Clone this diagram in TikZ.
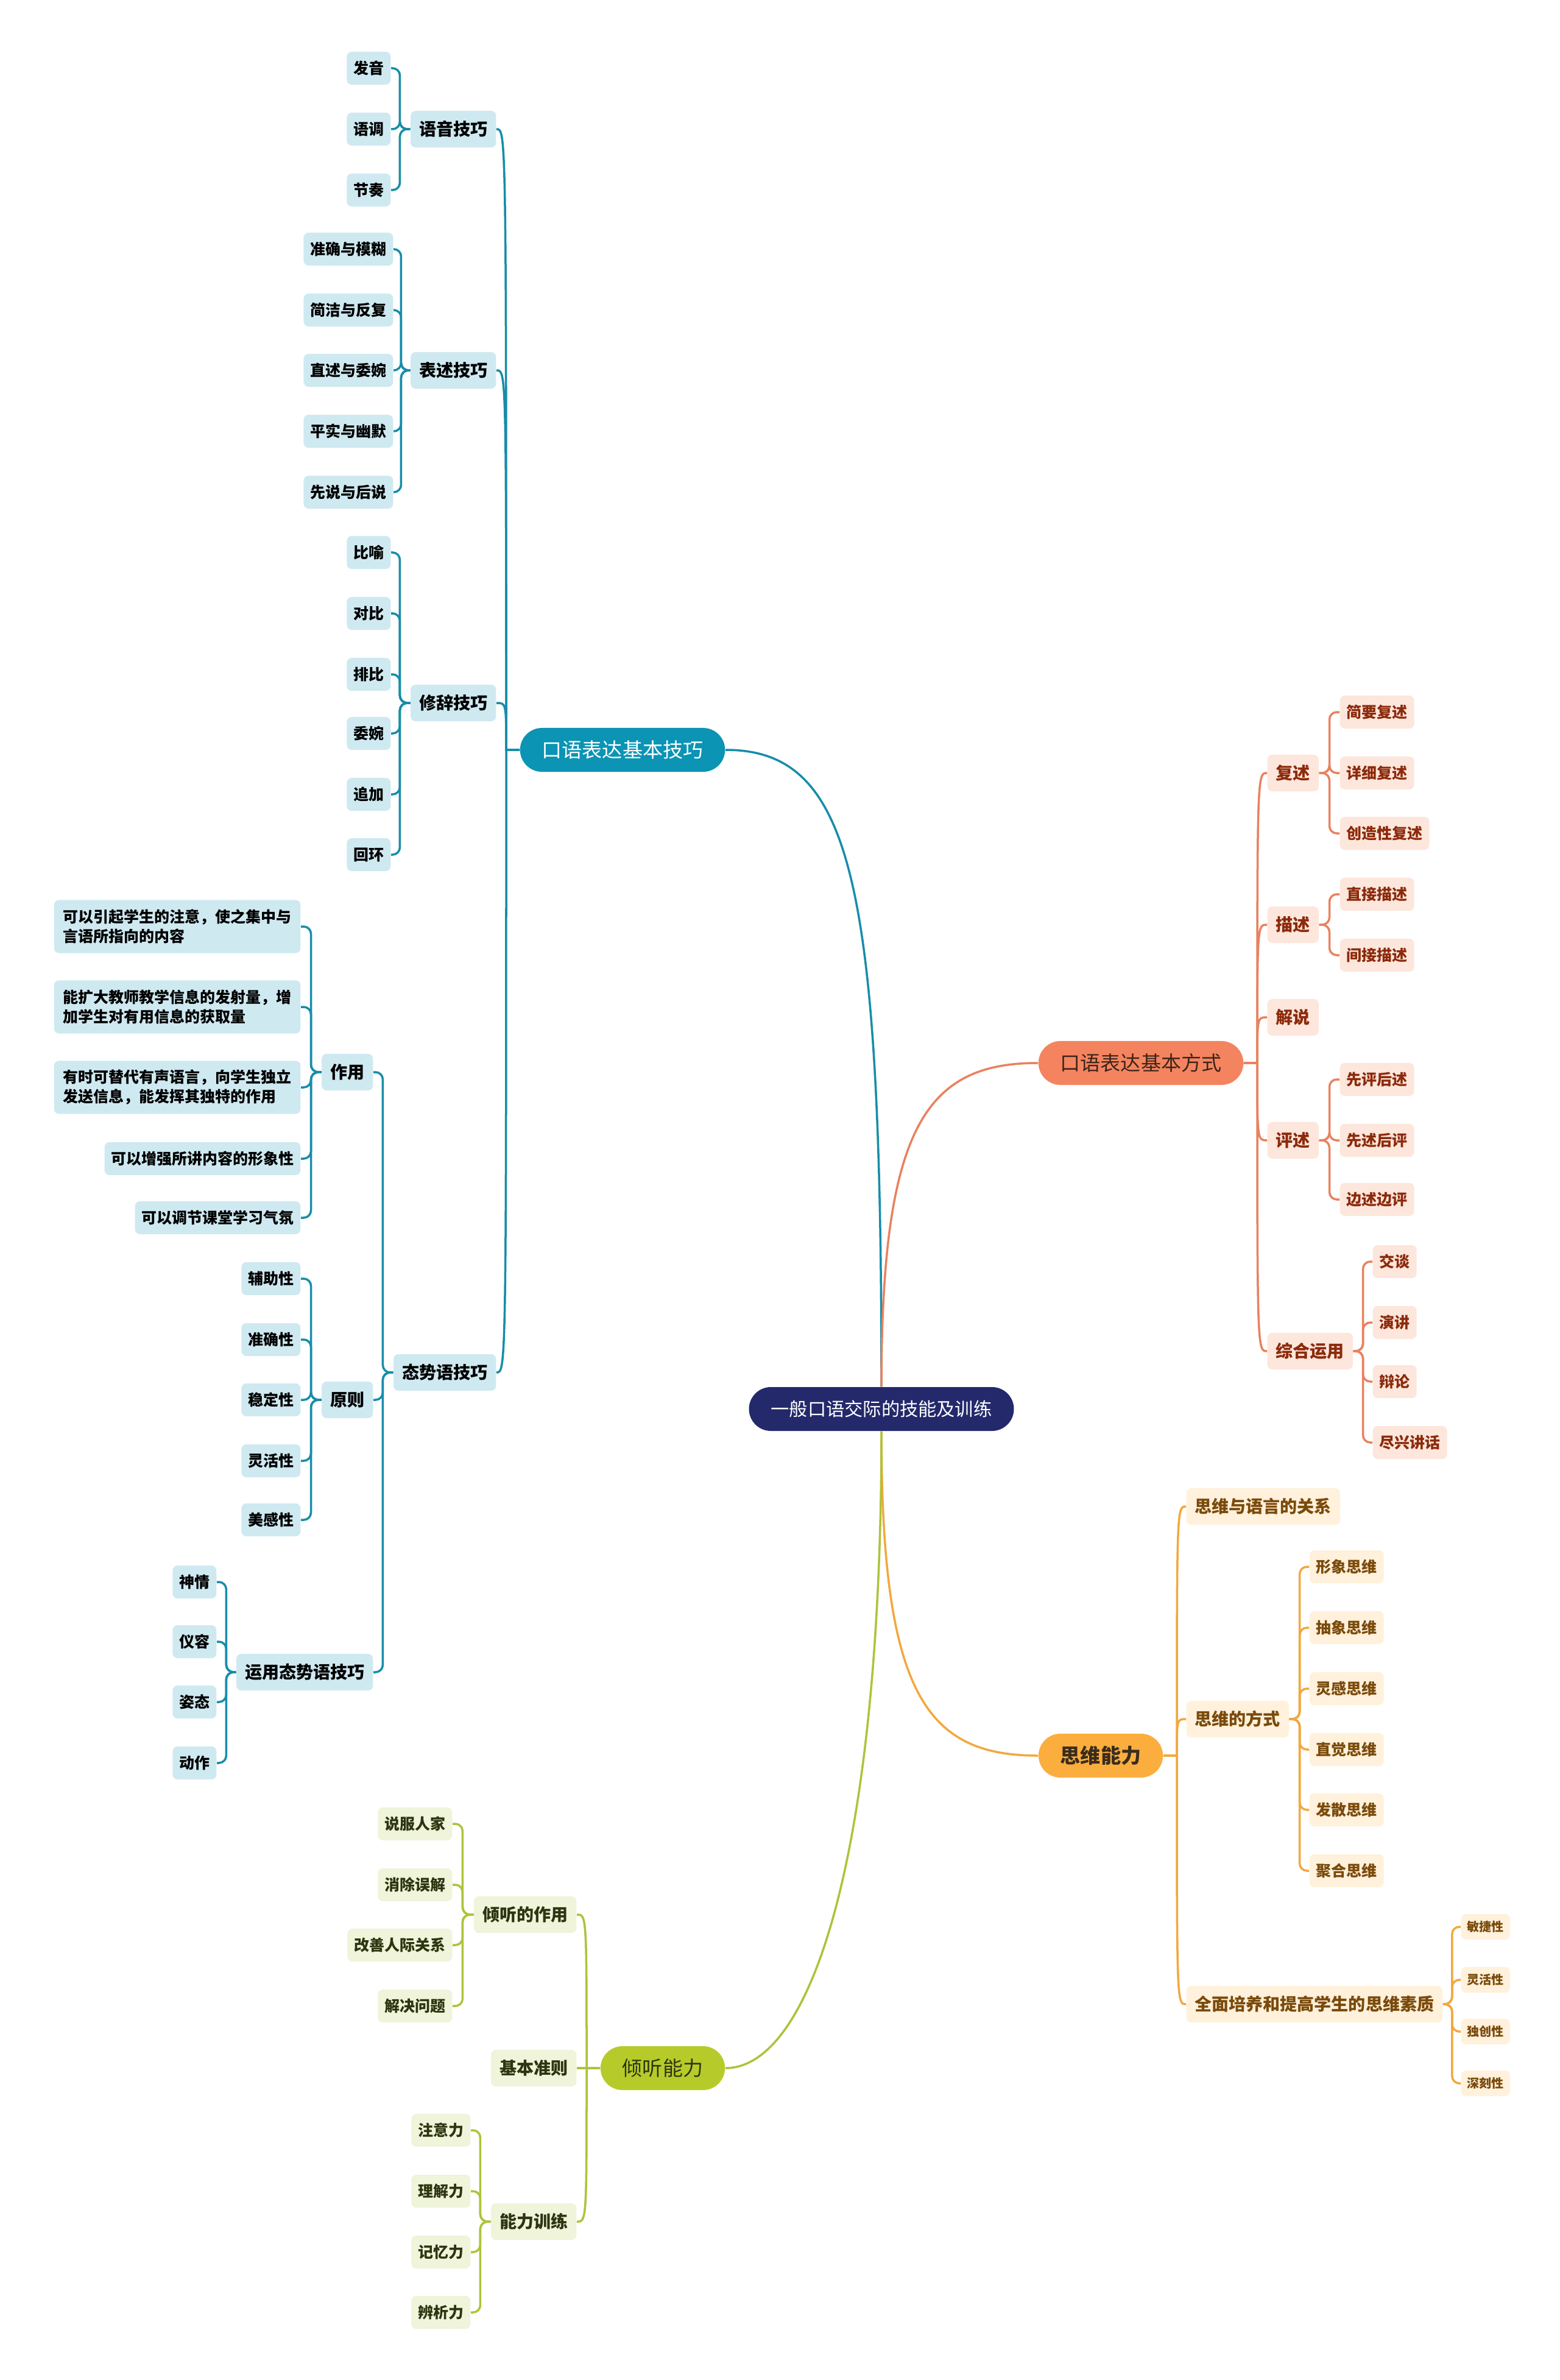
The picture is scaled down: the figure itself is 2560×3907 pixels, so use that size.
\documentclass[tikz,border=0pt]{standalone}
\usepackage{fontspec}
\setmainfont{Noto Sans CJK SC}
\definecolor{navy}{HTML}{23296B}
\definecolor{tMain}{HTML}{0B94B4}
\definecolor{tLine}{HTML}{178DA9}
\definecolor{tL}{HTML}{CFE9F1}
\definecolor{oMain}{HTML}{F4845F}
\definecolor{oLine}{HTML}{E9825F}
\definecolor{oL}{HTML}{FDE6DC}
\definecolor{oT}{HTML}{8C2A0B}
\definecolor{oMT}{HTML}{3D2418}
\definecolor{aMain}{HTML}{FBAE3E}
\definecolor{aLine}{HTML}{F2A83E}
\definecolor{aL}{HTML}{FFF1DB}
\definecolor{aT}{HTML}{7A4A0B}
\definecolor{aMT}{HTML}{3A2C1C}
\definecolor{gMain}{HTML}{B6CB2A}
\definecolor{gLine}{HTML}{AEC33A}
\definecolor{gL}{HTML}{EFF4DA}
\definecolor{gT}{HTML}{2C3510}
\newcommand\fsroot{\fontsize{8.6pt}{10pt}\selectfont}
\newcommand\fsmain{\fontsize{9.4pt}{11pt}\selectfont}
\newcommand\fssub{\fontsize{7.97pt}{9.5pt}\selectfont\bfseries}
\newcommand\fsleaf{\fontsize{7.1pt}{9.1pt}\selectfont\bfseries}
\newcommand\fssmall{\fontsize{5.7pt}{7pt}\selectfont\bfseries}
\begin{document}
\begin{tikzpicture}[x=0.01cm,y=-0.01cm,
  box/.style={rectangle, rounded corners=0.08cm, inner ysep=0pt, align=center},
  sub/.style={box, font=\fssub, inner xsep=0.14cm, minimum height=0.6cm},
  leaf/.style={box, font=\fsleaf, inner xsep=0.11cm, minimum height=0.54cm},
  para/.style={box, font=\fsleaf, inner xsep=0.15cm, minimum height=0.87cm, align=left},
  small/.style={box, font=\fssmall, inner xsep=0.1cm, minimum height=0.42cm},
  pill/.style={rectangle, rounded corners=0.36cm, minimum height=0.72cm, inner xsep=0.36cm, inner ysep=0pt, font=\fsmain},
  T/.style={fill=tL, text=black},
  O/.style={fill=oL, text=oT},
  A/.style={fill=aL, text=aT},
  G/.style={fill=gL, text=gT},
  tline/.style={draw=tLine, line width=0.035cm},
  oline/.style={draw=oLine, line width=0.035cm},
  aline/.style={draw=aLine, line width=0.035cm},
  gline/.style={draw=gLine, line width=0.035cm},
  brk/.style={rounded corners=0.12cm}]
\fill[white] (0,0) rectangle (2560,3907);
\useasboundingbox (0,0) rectangle (2560,3907);

% root
\node[pill, fill=navy, text=white, font=\fsroot] (root) at (1447,2313) {一般口语交际的技能及训练};

% main branches
\node[pill, fill=tMain, text=white] (m1) at (1022,1231) {口语表达基本技巧};
\node[pill, fill=oMain, text=oMT] (m2) at (1873,1745) {口语表达基本方式};
\node[pill, fill=aMain, text=aMT, font=\fsmain\bfseries] (m3) at (1807,2882) {思维能力};
\node[pill, fill=gMain, text=gT] (m4) at (1088,3395) {倾听能力};

% ---------- teal ----------
\node[sub,T,anchor=east] (yy) at (815,212) {语音技巧};
\node[leaf,T,anchor=east] (fy) at (642,112) {发音};
\node[leaf,T,anchor=east] (ydiao) at (642,212) {语调};
\node[leaf,T,anchor=east] (jz) at (642,312) {节奏};

\node[sub,T,anchor=east] (bs) at (815,608) {表述技巧};
\node[leaf,T,anchor=east] (b1) at (646,409) {准确与模糊};
\node[leaf,T,anchor=east] (b2) at (646,509) {简洁与反复};
\node[leaf,T,anchor=east] (b3) at (646,608) {直述与委婉};
\node[leaf,T,anchor=east] (b4) at (646,708) {平实与幽默};
\node[leaf,T,anchor=east] (b5) at (646,808) {先说与后说};

\node[sub,T,anchor=east] (xc) at (815,1154) {修辞技巧};
\node[leaf,T,anchor=east] (x1) at (642,907) {比喻};
\node[leaf,T,anchor=east] (x2) at (642,1007) {对比};
\node[leaf,T,anchor=east] (x3) at (642,1107) {排比};
\node[leaf,T,anchor=east] (x4) at (642,1204) {委婉};
\node[leaf,T,anchor=east] (x5) at (642,1304) {追加};
\node[leaf,T,anchor=east] (x6) at (642,1403) {回环};

\node[sub,T,anchor=east] (ts) at (815,2253) {态势语技巧};
\node[sub,T,anchor=east] (zy) at (613,1760) {作用};
\node[para,T,anchor=east] (z1) at (494,1521) {可以引起学生的注意，使之集中与\\言语所指向的内容};
\node[para,T,anchor=east] (z2) at (494,1653) {能扩大教师教学信息的发射量，增\\加学生对有用信息的获取量};
\node[para,T,anchor=east] (z3) at (494,1785) {有时可替代有声语言，向学生独立\\发送信息，能发挥其独特的作用};
\node[leaf,T,anchor=east] (z4) at (494,1902) {可以增强所讲内容的形象性};
\node[leaf,T,anchor=east] (z5) at (494,1999) {可以调节课堂学习气氛};

\node[sub,T,anchor=east] (yz) at (613,2298) {原则};
\node[leaf,T,anchor=east] (r1) at (494,2099) {辅助性};
\node[leaf,T,anchor=east] (r2) at (494,2199) {准确性};
\node[leaf,T,anchor=east] (r3) at (494,2298) {稳定性};
\node[leaf,T,anchor=east] (r4) at (494,2398) {灵活性};
\node[leaf,T,anchor=east] (r5) at (494,2495) {美感性};

\node[sub,T,anchor=east] (yt) at (613,2745) {运用态势语技巧};
\node[leaf,T,anchor=east] (u1) at (356,2597) {神情};
\node[leaf,T,anchor=east] (u2) at (356,2695) {仪容};
\node[leaf,T,anchor=east] (u3) at (356,2794) {姿态};
\node[leaf,T,anchor=east] (u4) at (356,2894) {动作};

% ---------- orange ----------
\node[sub,O,anchor=west] (fs) at (2080,1269) {复述};
\node[leaf,O,anchor=west] (f1) at (2199,1169) {简要复述};
\node[leaf,O,anchor=west] (f2) at (2199,1269) {详细复述};
\node[leaf,O,anchor=west] (f3) at (2199,1368) {创造性复述};
\node[sub,O,anchor=west] (ms) at (2080,1518) {描述};
\node[leaf,O,anchor=west] (d1) at (2199,1468) {直接描述};
\node[leaf,O,anchor=west] (d2) at (2199,1568) {间接描述};
\node[sub,O,anchor=west] (js) at (2080,1670) {解说};
\node[sub,O,anchor=west] (ps) at (2080,1872) {评述};
\node[leaf,O,anchor=west] (p1) at (2199,1772) {先评后述};
\node[leaf,O,anchor=west] (p2) at (2199,1872) {先述后评};
\node[leaf,O,anchor=west] (p3) at (2199,1969) {边述边评};
\node[sub,O,anchor=west] (zh) at (2080,2218) {综合运用};
\node[leaf,O,anchor=west] (h1) at (2253,2071) {交谈};
\node[leaf,O,anchor=west] (h2) at (2253,2171) {演讲};
\node[leaf,O,anchor=west] (h3) at (2253,2268) {辩论};
\node[leaf,O,anchor=west] (h4) at (2253,2368) {尽兴讲话};

% ---------- amber ----------
\node[sub,A,anchor=west] (a1) at (1947,2473) {思维与语言的关系};
\node[sub,A,anchor=west] (a2) at (1947,2822) {思维的方式};
\node[leaf,A,anchor=west] (s1) at (2149,2572) {形象思维};
\node[leaf,A,anchor=west] (s2) at (2149,2672) {抽象思维};
\node[leaf,A,anchor=west] (s3) at (2149,2772) {灵感思维};
\node[leaf,A,anchor=west] (s4) at (2149,2872) {直觉思维};
\node[leaf,A,anchor=west] (s5) at (2149,2971) {发散思维};
\node[leaf,A,anchor=west] (s6) at (2149,3071) {聚合思维};
\node[sub,A,anchor=west] (a3) at (1947,3290) {全面培养和提高学生的思维素质};
\node[small,A,anchor=west] (q1) at (2398,3163) {敏捷性};
\node[small,A,anchor=west] (q2) at (2398,3250) {灵活性};
\node[small,A,anchor=west] (q3) at (2398,3335) {独创性};
\node[small,A,anchor=west] (q4) at (2398,3420) {深刻性};

% ---------- green ----------
\node[sub,G,anchor=east] (g1) at (947,3143) {倾听的作用};
\node[leaf,G,anchor=east] (l1) at (743,2994) {说服人家};
\node[leaf,G,anchor=east] (l2) at (743,3094) {消除误解};
\node[leaf,G,anchor=east] (l3) at (743,3193) {改善人际关系};
\node[leaf,G,anchor=east] (l4) at (743,3293) {解决问题};
\node[sub,G,anchor=east] (g2) at (947,3395) {基本准则};
\node[sub,G,anchor=east] (g3) at (947,3647) {能力训练};
\node[leaf,G,anchor=east] (n1) at (773,3497) {注意力};
\node[leaf,G,anchor=east] (n2) at (773,3597) {理解力};
\node[leaf,G,anchor=east] (n3) at (773,3697) {记忆力};
\node[leaf,G,anchor=east] (n4) at (773,3796) {辨析力};

% ---------- level-1 connectors ----------
\draw[tline] (m1.east) .. controls (1400,1231) and (1447,1450) .. (root.north);
\draw[oline] (root.north) .. controls (1447,1850) and (1520,1745) .. (m2.west);
\draw[aline] (root.south) .. controls (1447,2780) and (1520,2882) .. (m3.west);
\draw[gline] (root.south) .. controls (1447,3050) and (1330,3395) .. (m4.east);

% ---------- level-2 connectors ----------
\coordinate (t1) at (831,1231);
\foreach \c in {yy,bs,xc,ts}
  \draw[tline] (m1.west) -- (t1) .. controls (t1 |- \c.east) and (t1 |- \c.east) .. (\c.east);
\coordinate (t2) at (2064,1745);
\foreach \c in {fs,ms,js,ps,zh}
  \draw[oline] (m2.east) -- (t2) .. controls (t2 |- \c.west) and (t2 |- \c.west) .. (\c.west);
\coordinate (t3) at (1932,2882);
\foreach \c in {a1,a2,a3}
  \draw[aline] (m3.east) -- (t3) .. controls (t3 |- \c.west) and (t3 |- \c.west) .. (\c.west);
\coordinate (t4) at (963,3395);
\foreach \c in {g1,g2,g3}
  \draw[gline] (m4.west) -- (t4) .. controls (t4 |- \c.east) and (t4 |- \c.east) .. (\c.east);

% ---------- level-3 brackets ----------
\foreach \c in {fy,ydiao,jz} \draw[tline,brk] (yy.west) -- ++(-17,0) |- (\c.east);
\foreach \c in {b1,b2,b3,b4,b5} \draw[tline,brk] (bs.west) -- ++(-15,0) |- (\c.east);
\foreach \c in {x1,x2,x3,x4,x5,x6} \draw[tline,brk] (xc.west) -- ++(-17,0) |- (\c.east);
\foreach \c in {zy,yz,yt} \draw[tline,brk] (ts.west) -- ++(-17,0) |- (\c.east);
\foreach \c in {z1,z2,z3,z4,z5} \draw[tline,brk] (zy.west) -- ++(-17,0) |- (\c.east);
\foreach \c in {r1,r2,r3,r4,r5} \draw[tline,brk] (yz.west) -- ++(-17,0) |- (\c.east);
\foreach \c in {u1,u2,u3,u4} \draw[tline,brk] (yt.west) -- ++(-16,0) |- (\c.east);
\foreach \c in {f1,f2,f3} \draw[oline,brk] (fs.east) -- ++(17,0) |- (\c.west);
\foreach \c in {d1,d2} \draw[oline,brk] (ms.east) -- ++(17,0) |- (\c.west);
\foreach \c in {p1,p2,p3} \draw[oline,brk] (ps.east) -- ++(17,0) |- (\c.west);
\foreach \c in {h1,h2,h3,h4} \draw[oline,brk] (zh.east) -- ++(16,0) |- (\c.west);
\foreach \c in {s1,s2,s3,s4,s5,s6} \draw[aline,brk] (a2.east) -- ++(17,0) |- (\c.west);
\foreach \c in {q1,q2,q3,q4} \draw[aline,brk] (a3.east) -- ++(15,0) |- (\c.west);
\foreach \c in {l1,l2,l3,l4} \draw[gline,brk] (g1.west) -- ++(-18,0) |- (\c.east);
\foreach \c in {n1,n2,n3,n4} \draw[gline,brk] (g3.west) -- ++(-17,0) |- (\c.east);
\end{tikzpicture}
\end{document}
